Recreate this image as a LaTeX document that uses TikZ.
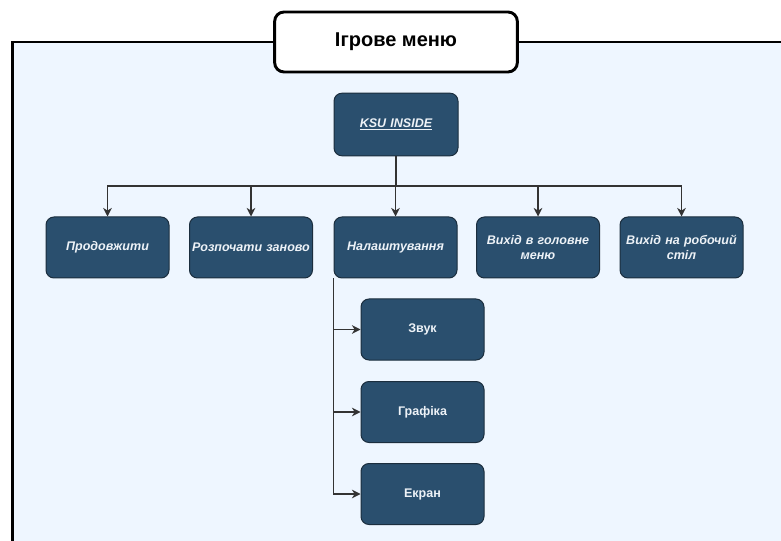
\documentclass[tikz,border=0pt]{standalone}
\usepackage{fontspec}
\setmainfont{Liberation Sans}
\usetikzlibrary{arrows.meta}
\definecolor{panel}{HTML}{EEF6FF}
\definecolor{boxfill}{HTML}{2A4F6E}
\definecolor{boxline}{HTML}{1B2E3E}
\definecolor{boxtext}{HTML}{EDF2F7}
\definecolor{wire}{HTML}{333333}
\tikzset{
  menubox/.style={draw=boxline, fill=boxfill, line width=0.75pt, rounded corners=6pt,
    minimum width=92.25pt, minimum height=45.75pt, inner sep=0pt, align=center,
    text width=90pt, text=boxtext, font=\fontsize{9.4}{11}\selectfont\bfseries\itshape},
  subbox/.style={menubox, font=\fontsize{9.4}{11}\selectfont\bfseries},
  titlebox/.style={draw=black, fill=white, line width=2.2pt, rounded corners=7pt,
    minimum width=182pt, minimum height=45pt, font=\fontsize{15}{18}\selectfont\bfseries},
  wirearrow/.style={draw=wire, line width=0.8pt, -{Stealth[length=6.5pt,width=6.5pt]}}
}
\begin{document}
\begin{tikzpicture}[x=0.75pt, y=-0.75pt]
\useasboundingbox (0,0) rectangle (781,541);
\clip (0,0) rectangle (781,541);
\fill[white] (0,0) rectangle (781,541);
% outer panel
\draw[fill=panel, line width=2.2pt] (12.5,42) rectangle (820,580);
% title tab
\node[titlebox] (title) at (396,42) {Ігрове меню};
% root
\node[menubox, minimum width=93pt, minimum height=47pt] (ksu) at (396,124.5) {\underline{KSU INSIDE}};
% first level
\node[menubox] (cont) at (107.5,247.5) {Продовжити};
\node[menubox] (restart) at (251,247.5) {Розпочати заново};
\node[menubox] (settings) at (395.5,247.5) {Налаштування};
\node[menubox] (mainmenu) at (538,247.5) {Вихід в головне\\меню};
\node[menubox] (desktop) at (681.5,247.5) {Вихід на робочий\\стіл};
% settings submenu
\node[subbox] (sound) at (422.5,329.5) {Звук};
\node[subbox] (graphics) at (422.5,412) {Графіка};
\node[subbox] (screen) at (422.5,494) {Екран};
% tree connectors
\coordinate (bus) at (396,186);
\foreach \t in {cont,restart,settings,mainmenu,desktop}
  \draw[wirearrow] (ksu.south) -- (ksu.south |- bus) -| (\t.north);
\foreach \t in {sound,graphics,screen}
  \draw[wirearrow] (settings.south west) |- (\t.west);
\end{tikzpicture}
\end{document}
